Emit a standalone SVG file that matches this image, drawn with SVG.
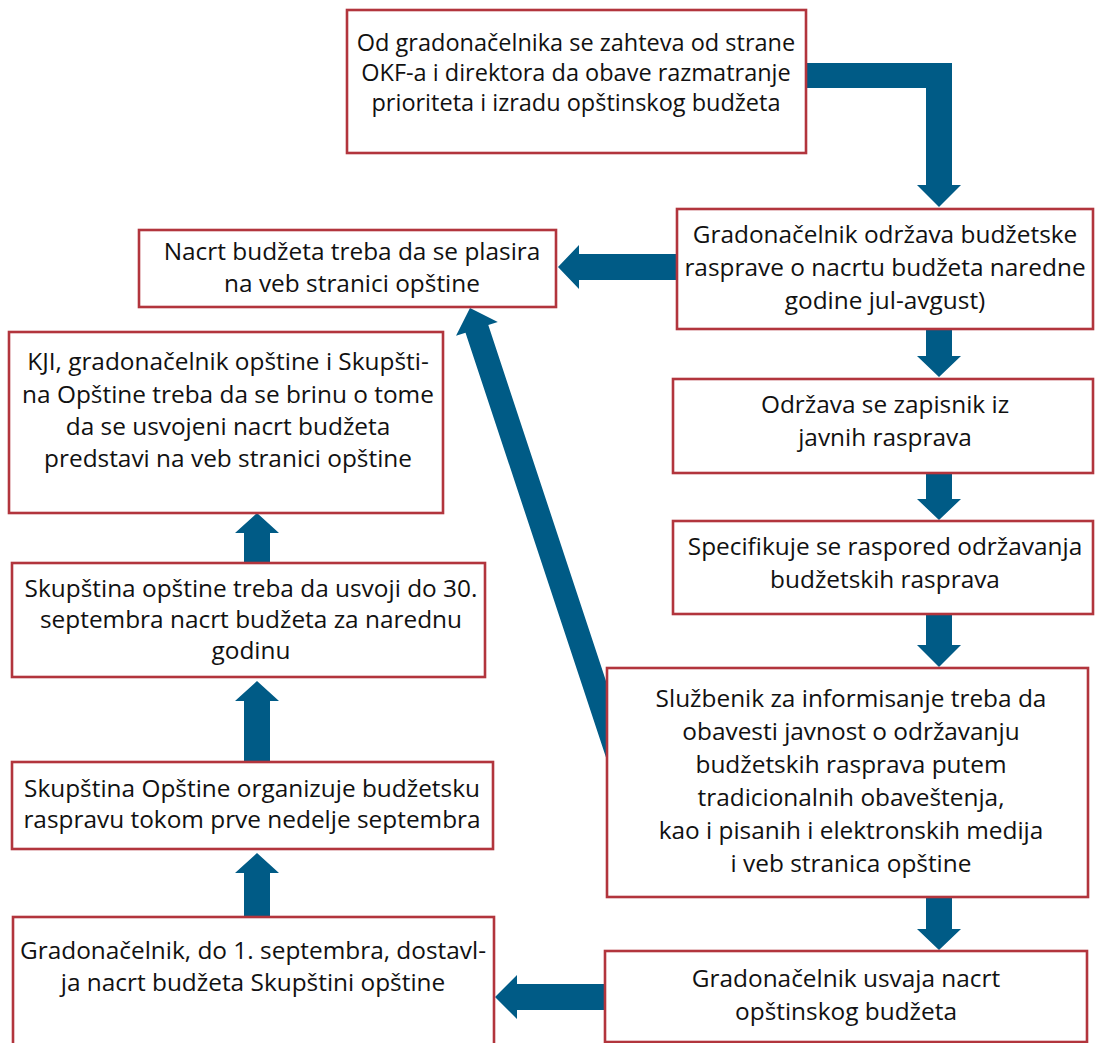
<svg xmlns="http://www.w3.org/2000/svg" width="1095" height="1043" viewBox="0 0 1095 1043">
<style>
.box{fill:#fff;stroke:#B2353D;stroke-width:2.6}
.arr{fill:#005B86}
text{font-family:"Open Sans",Lato,"Liberation Sans",sans-serif;font-size:24.4px;fill:#111;text-anchor:middle}
#n1 text{font-size:23.5px}
</style>
<rect width="1095" height="1043" fill="#fff"/>
<g id="connectors">
<polygon class="arr" points="806,63 952,63 952,185 961,185 939,207 917,185 926,185 926,88 806,88"/>
<polygon class="arr" points="677,254 579,254 579,245 558,267 579,289 579,280 677,280"/>
<polygon class="arr" points="926,329 952,329 952,356 961,356 939,377 917,356 926,356"/>
<polygon class="arr" points="926,473 952,473 952,499 961,499 939,520 917,499 926,499"/>
<polygon class="arr" points="926,614 952,614 952,645 961,645 939,667 917,645 926,645"/>
<polygon class="arr" points="926,897 952,897 952,929 961,929 939,950 917,929 926,929"/>
<polygon class="arr" points="605,984 517,984 517,975 495,997 517,1019 517,1010 605,1010"/>
<polygon class="arr" points="244,917 270,917 270,873 279,873 257,853 235,873 244,873"/>
<polygon class="arr" points="244,762 270,762 270,701 279,701 257,681 235,701 244,701"/>
<polygon class="arr" points="244,563 270,563 270,533 279,533 257,513 235,533 244,533"/>
<polygon class="arr" transform="translate(470,308) rotate(-18.3)" points="0,0 22,22 12,22 12,506 -12,506 -12,22 -22,22"/>
</g>
<g id="n1"><rect class="box" x="347" y="10" width="459" height="143"/>
<text x="576" y="51">Od gradonačelnika se zahteva od strane</text>
<text x="576" y="81">OKF-a i direktora da obave razmatranje</text>
<text x="576" y="111">prioriteta i izradu opštinskog budžeta</text></g>
<g id="n2"><rect class="box" x="677" y="209" width="416" height="120"/>
<text x="885" y="243">Gradonačelnik održava budžetske</text>
<text x="885" y="276">rasprave o nacrtu budžeta naredne</text>
<text x="885" y="309">godine jul-avgust)</text></g>
<g id="n3"><rect class="box" x="139" y="230" width="417" height="77"/>
<text x="352" y="260">Nacrt budžeta treba da se plasira</text>
<text x="352" y="292">na veb stranici opštine</text></g>
<g id="n4"><rect class="box" x="9" y="332" width="434" height="181"/>
<text x="228" y="370">KJI, gradonačelnik opštine i Skupšti-</text>
<text x="228" y="403">na Opštine treba da se brinu o tome</text>
<text x="228" y="435">da se usvojeni nacrt budžeta</text>
<text x="228" y="467">predstavi na veb stranici opštine</text></g>
<g id="n5"><rect class="box" x="673" y="379" width="420" height="94"/>
<text x="885" y="413">Održava se zapisnik iz</text>
<text x="885" y="446">javnih rasprava</text></g>
<g id="n6"><rect class="box" x="673" y="521" width="420" height="93"/>
<text x="885" y="555">Specifikuje se raspored održavanja</text>
<text x="885" y="588">budžetskih rasprava</text></g>
<g id="n7"><rect class="box" x="12" y="563" width="473" height="114"/>
<text x="251" y="597">Skupština opštine treba da usvoji do 30.</text>
<text x="251" y="628">septembra nacrt budžeta za narednu</text>
<text x="251" y="659">godinu</text></g>
<g id="n8"><rect class="box" x="607" y="668" width="481" height="229"/>
<text x="851" y="707">Službenik za informisanje treba da</text>
<text x="851" y="740">obavesti javnost o održavanju</text>
<text x="851" y="773">budžetskih rasprava putem</text>
<text x="851" y="806">tradicionalnih obaveštenja,</text>
<text x="851" y="839">kao i pisanih i elektronskih medija</text>
<text x="851" y="872">i veb stranica opštine</text></g>
<g id="n9"><rect class="box" x="12" y="762" width="481" height="87"/>
<text x="252" y="797">Skupština Opštine organizuje budžetsku</text>
<text x="252" y="828">raspravu tokom prve nedelje septembra</text></g>
<g id="n10"><rect class="box" x="605" y="951" width="482" height="91"/>
<text x="846" y="987">Gradonačelnik usvaja nacrt</text>
<text x="846" y="1020">opštinskog budžeta</text></g>
<g id="n11"><rect class="box" x="13" y="917" width="481" height="140"/>
<text x="253" y="959">Gradonačelnik, do 1. septembra, dostavl-</text>
<text x="253" y="991">ja nacrt budžeta Skupštini opštine</text></g>
</svg>
